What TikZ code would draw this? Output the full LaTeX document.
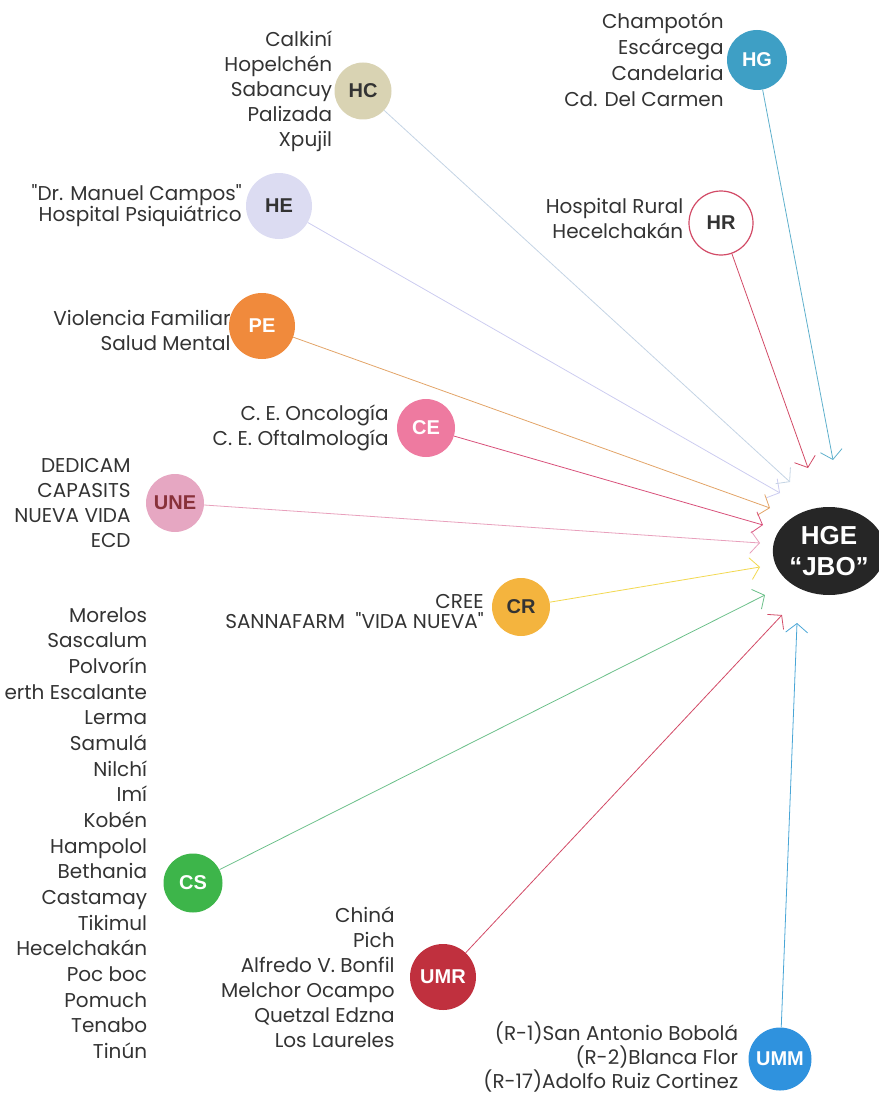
\documentclass[tikz,border=0pt]{standalone}
\usepackage{fontspec}
\setmainfont{Poppins}[Ligatures=TeXOff]
\newfontfamily\hubfont{Liberation Sans}
\usetikzlibrary{positioning,arrows.meta,shapes.geometric}
\definecolor{ink}{HTML}{333333}
\definecolor{cHC}{HTML}{D9D3B3}
\definecolor{cHE}{HTML}{DCDCF2}
\definecolor{cHG}{HTML}{3E9FC5}
\definecolor{cHR}{HTML}{D24A66}
\definecolor{cPE}{HTML}{F08A3C}
\definecolor{cCE}{HTML}{EE7AA0}
\definecolor{cUNE}{HTML}{E6A7C2}
\definecolor{cCR}{HTML}{F4B43E}
\definecolor{cCS}{HTML}{3DB54A}
\definecolor{cUMR}{HTML}{C0303E}
\definecolor{cUMM}{HTML}{2F92DE}
\definecolor{cHGE}{HTML}{262626}
\definecolor{lHCc}{HTML}{C4D4E4}
\definecolor{lHEc}{HTML}{CCCCF0}
\definecolor{lPEc}{HTML}{E2A468}
\definecolor{lCEc}{HTML}{D8507A}
\definecolor{lUNEc}{HTML}{E8A0BC}
\definecolor{lCRc}{HTML}{F2D850}
\definecolor{lCSc}{HTML}{6CC08A}
\definecolor{lUMMc}{HTML}{4AA6D6}
\definecolor{lHGc}{HTML}{5FB0CC}
\begin{document}
\begin{tikzpicture}[x=1pt,y=-1pt,
    hub/.style={circle, minimum size=60pt, inner sep=0pt, text=ink,
      font=\hubfont\bfseries\fontsize{20}{20}\selectfont},
    places/.style={align=right, inner sep=0pt, text=ink,
      font=\fontsize{20}{25}\selectfont},
    link/.style={line width=0.8pt, -{Straight Barb[length=9pt,width=22pt]}}]
  \useasboundingbox (0,0) rectangle (878,1097);
  % arrow ends round HGE
  \coordinate (tHG) at (833,460);
  \coordinate (tHR) at (808,468);
  \coordinate (tHC) at (790,482);
  \coordinate (tHE) at (780,493);
  \coordinate (tPE) at (770,508);
  \coordinate (tCE) at (763,525);
  \coordinate (tUNE) at (760,543);
  \coordinate (tCR) at (760,567);
  \coordinate (tCS) at (765,595);
  \coordinate (tUMR) at (782,615);
  \coordinate (tUMM) at (797,623);
  % hubs
  \node[ellipse, fill=cHGE, text=white, minimum width=97pt, minimum height=88pt,
    inner sep=0pt, align=center, font=\hubfont\bfseries\fontsize{26}{31}\selectfont]
    (HGE) at (829,551) {HGE\\“JBO”};
  \node[hub, fill=cHC, minimum size=57pt] (HC) at (363,91) {HC};
  \node[hub, fill=cHE, minimum size=66pt] (HE) at (279,206) {HE};
  \node[hub, fill=cHG, text=white] (HG) at (757,60) {HG};
  \node[hub, draw=cHR, line width=1.2pt, fill=white, minimum size=64pt] (HR) at (721,223) {HR};
  \node[hub, fill=cPE, text=white, minimum size=66pt] (PE) at (262,326) {PE};
  \node[hub, fill=cCE, text=white, minimum size=58pt] (CE) at (426,428) {CE};
  \node[hub, fill=cUNE, text=cUMR!60!ink, minimum size=58pt] (UNE) at (175,503) {UNE};
  \node[hub, fill=cCR, minimum size=58pt] (CR) at (521,607) {CR};
  \node[hub, fill=cCS, text=white, minimum size=59pt] (CS) at (193,883) {CS};
  \node[hub, fill=cUMR, text=white, minimum size=66pt] (UMR) at (443,977) {UMR};
  \node[hub, fill=cUMM, text=white, minimum size=63pt] (UMM) at (780,1059) {UMM};
  % place lists
  \node[places, left=2pt of HC] (pHC) {Calkiní\\Hopelchén\\Sabancuy\\Palizada\\Xpujil};
  \node[places, left=4pt of HE, font=\fontsize{20}{21}\selectfont] (pHE) {"Dr. Manuel Campos"\\Hospital Psiquiátrico};
  \node[places, left=3pt of HG, font=\fontsize{20}{26}\selectfont] (pHG) {Champotón\\Escárcega\\Candelaria\\Cd. Del Carmen};
  \node[places, left=5pt of HR, yshift=5pt] (pHR) {Hospital Rural\\Hecelchakán};
  \node[places, left=-2pt of PE, yshift=-4pt] (pPE) {Violencia Familiar\\Salud Mental};
  \node[places, left=8pt of CE] (pCE) {C. E. Oncología\\C. E. Oftalmología};
  \node[places, left=15pt of UNE] (pUNE) {DEDICAM\\CAPASITS\\NUEVA VIDA\\ECD};
  \node[places, left=8pt of CR, yshift=-5pt, font=\fontsize{20}{20}\selectfont] (pCR) {CREE\\SANNAFARM\ \ "VIDA NUEVA"};
  \node[places, left=16pt of CS, yshift=50pt, font=\fontsize{20}{25.65}\selectfont] (pCS)
    {Morelos\\Sascalum\\Polvorín\\erth Escalante\\Lerma\\Samulá\\Nilchí\\Imí\\Kobén\\Hampolol\\Bethania\\Castamay\\Tikimul\\Hecelchakán\\Poc boc\\Pomuch\\Tenabo\\Tinún};
  \node[places, left=10pt of UMM, yshift=2pt, font=\fontsize{20}{24}\selectfont] (pUMM) {(R-1)San Antonio Bobolá\\(R-2)Blanca Flor\\(R-17)Adolfo Ruiz Cortinez};
  \node[places, left=15pt of UMR] (pUMR) {Chiná\\Pich\\Alfredo V. Bonfil\\Melchor Ocampo\\Quetzal Edzna\\Los Laureles};
  % links
  \draw[link, lHGc] (HG) -- (tHG);
  \draw[link, cHR] (HR) -- (tHR);
  \draw[link, lHCc] (HC) -- (tHC);
  \draw[link, lHEc] (HE) -- (tHE);
  \draw[link, lPEc] (PE) -- (tPE);
  \draw[link, lCEc] (CE) -- (tCE);
  \draw[link, lUNEc] (UNE) -- (tUNE);
  \draw[link, lCRc] (CR) -- (tCR);
  \draw[link, lCSc] (CS) -- (tCS);
  \draw[link, cHR] (UMR) -- (tUMR);
  \draw[link, lUMMc] (UMM) -- (tUMM);
\end{tikzpicture}
\end{document}
